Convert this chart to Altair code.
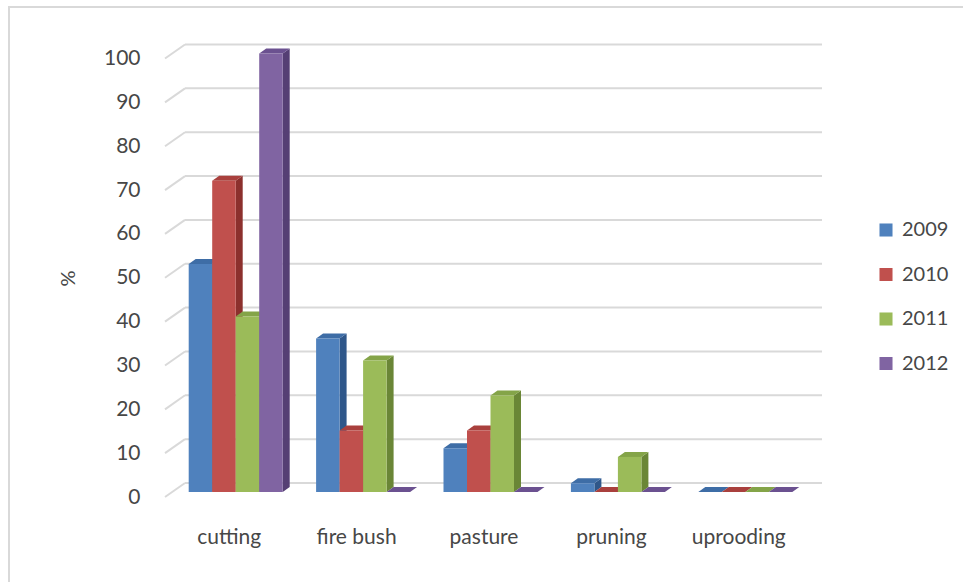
import json

import altair as alt
import pandas as pd

# ---- data -------------------------------------------------------------
categories = ["cutting", "fire bush", "pasture", "pruning", "uprooding"]
years = ["2009", "2010", "2011", "2012"]
values_2009 = [52, 35, 10, 2, 0]
values_2010 = [71, 14, 14, 0, 0]
values_2011 = [40, 30, 22, 8, 0]
values_2012 = [100, 0, 0, 0, 0]
y_ticks = [0, 10, 20, 30, 40, 50, 60, 70, 80, 90, 100]

series = [values_2009, values_2010, values_2011, values_2012]

# ---- styling ----------------------------------------------------------
front_colors = ["#4F81BD", "#C0504D", "#9BBB59", "#8064A2"]
top_colors = ["#3E6DA6", "#A9403D", "#84A448", "#6B5190"]
side_colors = ["#2F578A", "#8C302D", "#6A8636", "#553F74"]
grid_color = "#D9D9D9"
text_color = "#474747"
font = "Lato"

# ---- pseudo-3D geometry (in axis units) --------------------------------
W, H = 657, 456                 # plot area in pixels
PX_X = 127.4                    # pixels per category
PX_Y = 4.38                     # pixels per percent
WALL_DX, WALL_DY = 20 / PX_X, 14 / PX_Y   # depth of the back wall
BAR_DX, BAR_DY = 7 / PX_X, 5 / PX_Y       # half-depth step for the bars
BAR_W = 23.5 / PX_X
GROUP_OFF = (1 - 4 * BAR_W) / 2
X_MAX = len(categories) + WALL_DX
Y_MAX = 104

front_rows, top_rows, side_rows = [], [], []
for j, (year, vals) in enumerate(zip(years, series)):
    for i, (cat, v) in enumerate(zip(categories, vals)):
        bar = f"{cat}-{year}"
        x0 = i + GROUP_OFF + j * BAR_W + BAR_DX
        x1 = x0 + BAR_W
        base, top = BAR_DY, BAR_DY + v
        front_rows.append(dict(category=cat, year=year, value=v,
                               x0=x0, x1=x1, y0=base, y1=top))
        # top face: parallelogram receding up and to the right
        for xp, lo, hi in [(x0, top, top),
                           (x0 + BAR_DX, top, top + BAR_DY),
                           (x1, top, top + BAR_DY),
                           (x1 + BAR_DX, top + BAR_DY, top + BAR_DY)]:
            top_rows.append(dict(bar=bar, x=xp, lo=lo, hi=hi, fill=top_colors[j]))
        # right side face
        for xp, lo, hi in [(x1, base, top),
                           (x1 + BAR_DX, base + BAR_DY, top + BAR_DY)]:
            side_rows.append(dict(bar=bar, x=xp, lo=lo, hi=hi, fill=side_colors[j]))

front_df = pd.DataFrame(front_rows)
top_df = pd.DataFrame(top_rows)
side_df = pd.DataFrame(side_rows)

grid_rows = []
for v in y_ticks:
    grid_rows.append(dict(x=0, x2=WALL_DX, y=v, y2=v + WALL_DY))
    grid_rows.append(dict(x=WALL_DX, x2=X_MAX, y=v + WALL_DY, y2=v + WALL_DY))
grid_df = pd.DataFrame(grid_rows)

# ---- shared scales / axes ---------------------------------------------
label_expr = json.dumps(categories) + "[floor(datum.value)]"
x_scale = alt.Scale(domain=[0, X_MAX], nice=False, zero=False)
y_scale = alt.Scale(domain=[0, Y_MAX], nice=False)
x_axis = alt.Axis(values=[i + 0.5 for i in range(len(categories))],
                  labelExpr=label_expr, title=None, grid=False, domain=False,
                  ticks=False, labelPadding=29, labelFontSize=21, labelFont=font,
                  labelColor=text_color)
y_axis = alt.Axis(values=y_ticks, title="%", grid=False, domain=False, ticks=False,
                  labelPadding=25, labelFontSize=21, labelFont=font,
                  labelColor=text_color, titleFont=font, titleFontSize=20,
                  titleFontWeight="normal", titleColor=text_color,
                  titleX=-97, titleY=237, titleAngle=-90,
                  titleAlign="center", titleBaseline="middle")


def X(field):
    return alt.X(field, type="quantitative", scale=x_scale, axis=x_axis)


def Y(field):
    return alt.Y(field, type="quantitative", scale=y_scale, axis=y_axis)


frame = alt.Chart(pd.DataFrame({"k": [0]})).mark_rect(
    fillOpacity=0, stroke=grid_color, strokeWidth=2
).encode(
    x=alt.value(-156), x2=alt.value(W + 150),
    y=alt.value(-34), y2=alt.value(H + 100),
)

grid = alt.Chart(grid_df).mark_rule(color=grid_color, strokeWidth=2).encode(
    x=X("x"), x2="x2", y=Y("y"), y2="y2"
)

sides = alt.Chart(side_df).mark_area(interpolate="linear").encode(
    x=X("x"), y=Y("hi"), y2="lo", detail="bar:N",
    color=alt.Color("fill:N", scale=None),
)

tops = alt.Chart(top_df).mark_area(interpolate="linear").encode(
    x=X("x"), y=Y("hi"), y2="lo", detail="bar:N",
    color=alt.Color("fill:N", scale=None),
)

fronts = alt.Chart(front_df).mark_rect().encode(
    x=X("x0"), x2="x1", y=Y("y1"), y2="y0",
    color=alt.Color(
        "year:N",
        scale=alt.Scale(domain=years, range=front_colors),
        legend=alt.Legend(
            title=None, orient="none", legendX=711, legendY=179,
            symbolType="square", symbolSize=170, symbolStrokeWidth=0,
            rowPadding=24.5, labelFontSize=20, labelFont=font,
            labelColor=text_color, labelOffset=6,
        ),
    ),
    tooltip=["category", "year", "value"],
)

chart = (
    alt.layer(frame, grid, sides, tops, fronts)
    .resolve_scale(color="independent")
    .properties(
        width=W, height=H,
        autosize=alt.AutoSizeParams(type="none"),
        padding={"left": 165, "top": 41, "right": 141, "bottom": 85},
        background="white",
    )
    .configure_view(stroke=None)
)

chart.save("out.html", embed_options={"renderer": "svg", "actions": False})
